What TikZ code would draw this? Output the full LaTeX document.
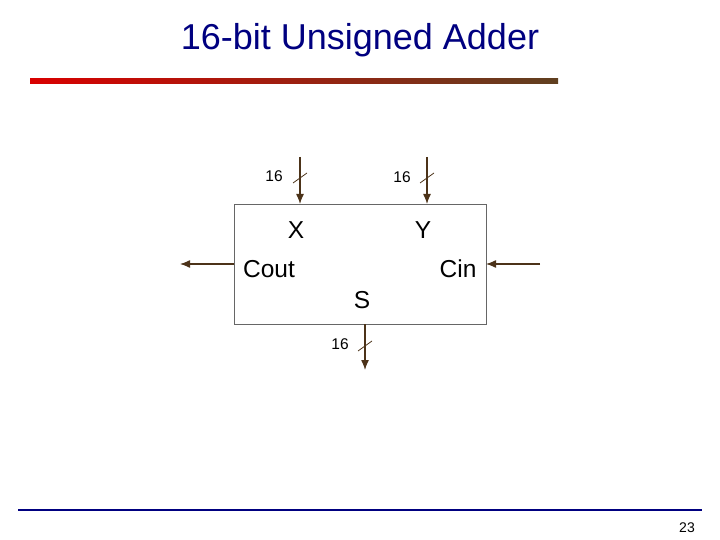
\documentclass[tikz,border=0pt]{standalone}
\usepackage{fontspec}
\setmainfont{Liberation Sans}
\usetikzlibrary{arrows.meta}
\begin{document}
\begin{tikzpicture}[x=1pt,y=-1pt,
  wire/.style={draw=brown!40!black,line width=1.3pt,-{Latex[length=10pt,width=8pt]}},
  lbl/.style={font=\fontsize{24.5}{28}\selectfont,inner sep=0},
  num/.style={font=\fontsize{15.5}{18}\selectfont,inner sep=0},
  slash/.style={draw=brown!40!black,line width=0.8pt}]
\useasboundingbox (0,0) rectangle (720,540);
\definecolor{navy}{RGB}{0,0,128}
\node[font=\fontsize{36}{40}\selectfont,text=navy] (title) at (360,40) {16-bit Unsigned Adder};
\shade[left color=red!85!black,right color=brown!50!black] (30,78.5) rectangle (558,83.5);
\node[draw=gray!80!black,line width=0.8pt,minimum width=252,minimum height=120,inner sep=0] (box) at (360,264) {};
\coordinate (xin) at (300,157); \coordinate (xb) at (300,204);
\coordinate (yin) at (427,157); \coordinate (yb) at (427,204);
\coordinate (cl) at (234,264); \coordinate (co) at (180,264);
\coordinate (ci) at (540,264); \coordinate (cr) at (486,264);
\coordinate (sb) at (365,324); \coordinate (so) at (365,370);
\draw[wire] (xin) -- (xb);
\draw[wire] (yin) -- (yb);
\draw[wire] (cl) -- (co);
\draw[wire] (ci) -- (cr);
\draw[wire] (sb) -- (so);
\draw[slash] (293,183) -- (307,173);
\draw[slash] (420,183) -- (434,173);
\draw[slash] (358,351) -- (372,341);
\node[num] (n1) at (274,176) {16};
\node[num] (n2) at (402,177) {16};
\node[num] (n3) at (340,344) {16};
\node[lbl] (lx) at (296,230) {X};
\node[lbl] (ly) at (423,230) {Y};
\node[lbl] (lco) at (269,269) {Cout};
\node[lbl] (lci) at (458,269) {Cin};
\node[lbl] (ls) at (362,300) {S};
\draw[navy,line width=2.5] (18,510) -- (702,510);
\node[font=\fontsize{14}{16}\selectfont] (pg) at (687,528) {23};
\end{tikzpicture}
\end{document}
